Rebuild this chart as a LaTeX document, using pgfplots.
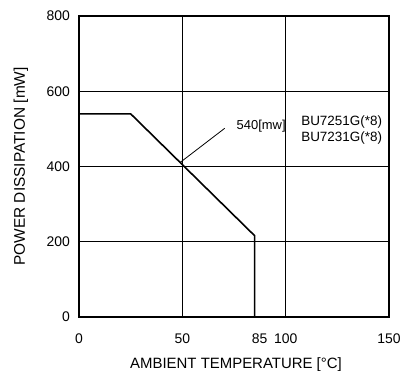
\documentclass[border=0pt]{standalone}
\usepackage{fontspec}
\setmainfont{Liberation Sans}
\usepackage{pgfplots}
\pgfplotsset{compat=1.18}
\begin{document}
\begin{tikzpicture}
\begin{axis}[
  at={(0,0)}, anchor=south west,
  scale only axis, width=310bp, height=301bp,
  xmin=0, xmax=150, ymin=0, ymax=800,
  xtick={0,50,100,150}, ytick={0,200,400,600,800},
  extra x ticks={85},
  extra x tick style={grid=none, xticklabel style={xshift=5bp}},
  grid=major, grid style={black, line width=0.8bp},
  axis line style={line width=1.6bp},
  major tick length=0pt,
  /pgf/number format/assume math mode=true,
  tick label style={font=\fontsize{14}{16}\selectfont, inner sep=0pt},
  xticklabel style={anchor=center, yshift=-22bp},
  yticklabel style={anchor=east, xshift=-9bp},
  xlabel={AMBIENT TEMPERATURE [°C]},
  ylabel={POWER DISSIPATION [mW]},
  xlabel style={font=\fontsize{15}{17}\selectfont, inner sep=0pt, anchor=base,
    at={([yshift=-51.7bp,xshift=2bp]axis description cs:0.5,0)}},
  ylabel style={font=\fontsize{15.5}{17}\selectfont, inner sep=0pt, anchor=base,
    at={([xshift=-54bp]axis description cs:0,0.5)}},
  clip=false,
]
\addplot[line width=1.6bp, black] coordinates {(0,540) (25,540) (85,216) (85,0)};
\addplot[line width=0.8bp, black] coordinates {(49,411) (70.5,501.5)};
\node[anchor=west, inner sep=0pt, font=\fontsize{13}{15}\selectfont] at (axis cs:76.2,506) {540[mw]};
\node[inner sep=0pt, font=\fontsize{13.5}{15}\selectfont] at (axis cs:127.1,519) {BU7251G(*8)};
\node[inner sep=0pt, font=\fontsize{13.5}{15}\selectfont] at (axis cs:127.1,475) {BU7231G(*8)};
\end{axis}
\pgfresetboundingbox
\path (-79bp,-54bp) rectangle (324bp,317bp);
\end{tikzpicture}
\end{document}
